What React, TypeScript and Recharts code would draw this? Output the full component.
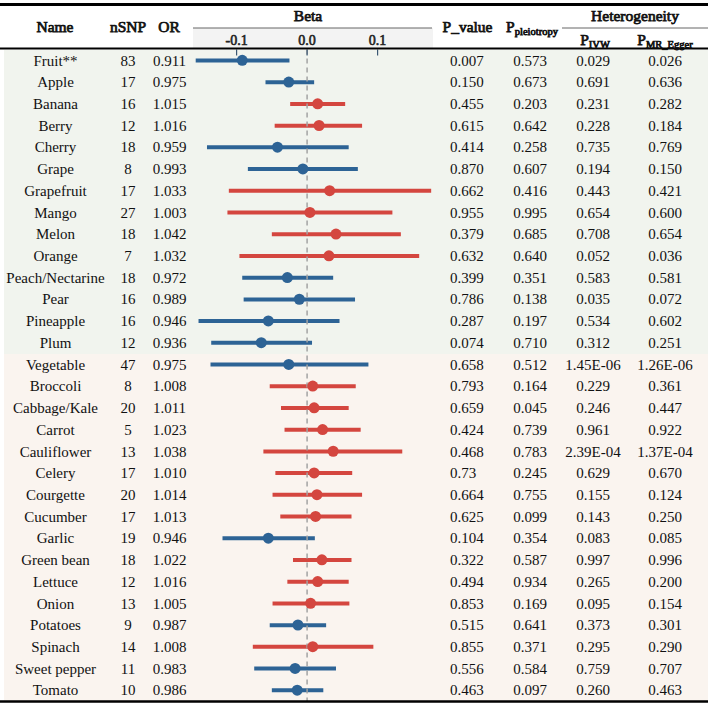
import React from 'react';
import { ComposedChart, Bar, Line, Cell, XAxis, YAxis, ReferenceLine } from 'recharts';

const SERIF = '"Liberation Serif", "Times New Roman", serif';
const BLUE = '#2d6395';
const RED = '#d4463f';
const FRUIT_BG = '#f1f4ee';
const VEG_BG = '#faf4ef';

const names = [
  'Fruit**', 'Apple', 'Banana', 'Berry', 'Cherry', 'Grape', 'Grapefruit', 'Mango', 'Melon', 'Orange',
  'Peach/Nectarine', 'Pear', 'Pineapple', 'Plum',
  'Vegetable', 'Broccoli', 'Cabbage/Kale', 'Carrot', 'Cauliflower', 'Celery', 'Courgette', 'Cucumber',
  'Garlic', 'Green bean', 'Lettuce', 'Onion', 'Potatoes', 'Spinach', 'Sweet pepper', 'Tomato',
];
const nSNP = [83, 17, 16, 12, 18, 8, 17, 27, 18, 7, 18, 16, 16, 12, 47, 8, 20, 5, 13, 17, 20, 17, 19, 18, 12, 13, 9, 14, 11, 10];
const orValues = [
  '0.911', '0.975', '1.015', '1.016', '0.959', '0.993', '1.033', '1.003', '1.042', '1.032', '0.972', '0.989', '0.946', '0.936',
  '0.975', '1.008', '1.011', '1.023', '1.038', '1.010', '1.014', '1.013', '0.946', '1.022', '1.016', '1.005', '0.987', '1.008', '0.983', '0.986',
];
const beta = [
  -0.092, -0.026, 0.015, 0.017, -0.042, -0.006, 0.032, 0.004, 0.041, 0.031, -0.028, -0.011, -0.055, -0.065,
  -0.026, 0.008, 0.010, 0.022, 0.037, 0.010, 0.014, 0.012, -0.055, 0.021, 0.015, 0.005, -0.013, 0.008, -0.017, -0.014,
];
const ciLow = [
  -0.158, -0.059, -0.024, -0.046, -0.142, -0.084, -0.111, -0.113, -0.050, -0.096, -0.092, -0.090, -0.154, -0.136,
  -0.137, -0.053, -0.037, -0.032, -0.062, -0.045, -0.049, -0.038, -0.120, -0.020, -0.028, -0.049, -0.053, -0.077, -0.075, -0.050,
];
const ciHigh = [
  -0.025, 0.010, 0.054, 0.078, 0.059, 0.072, 0.176, 0.121, 0.133, 0.159, 0.037, 0.068, 0.046, 0.007,
  0.087, 0.069, 0.059, 0.076, 0.135, 0.064, 0.078, 0.063, 0.011, 0.063, 0.059, 0.060, 0.027, 0.094, 0.041, 0.023,
];
const pValue = [
  '0.007', '0.150', '0.455', '0.615', '0.414', '0.870', '0.662', '0.955', '0.379', '0.632', '0.399', '0.786', '0.287', '0.074',
  '0.658', '0.793', '0.659', '0.424', '0.468', '0.73', '0.664', '0.625', '0.104', '0.322', '0.494', '0.853', '0.515', '0.855', '0.556', '0.463',
];
const pPleio = [
  '0.573', '0.673', '0.203', '0.642', '0.258', '0.607', '0.416', '0.995', '0.685', '0.640', '0.351', '0.138', '0.197', '0.710',
  '0.512', '0.164', '0.045', '0.739', '0.783', '0.245', '0.755', '0.099', '0.354', '0.587', '0.934', '0.169', '0.641', '0.371', '0.584', '0.097',
];
const pIVW = [
  '0.029', '0.691', '0.231', '0.228', '0.735', '0.194', '0.443', '0.654', '0.708', '0.052', '0.583', '0.035', '0.534', '0.312',
  '1.45E-06', '0.229', '0.246', '0.961', '2.39E-04', '0.629', '0.155', '0.143', '0.083', '0.997', '0.265', '0.095', '0.373', '0.295', '0.759', '0.260',
];
const pEgger = [
  '0.026', '0.636', '0.282', '0.184', '0.769', '0.150', '0.421', '0.600', '0.654', '0.036', '0.581', '0.072', '0.602', '0.251',
  '1.26E-06', '0.361', '0.447', '0.922', '1.37E-04', '0.670', '0.124', '0.250', '0.085', '0.996', '0.200', '0.154', '0.301', '0.290', '0.707', '0.463',
];
const fruitCount = 14;
const betaTicks = [-0.1, 0, 0.1];

const rows = names.map((name, i) => ({ name, beta: beta[i], ci: [ciLow[i], ciHigh[i]] }));
const colorOf = (i: number) => (beta[i] < 0 ? BLUE : RED);

// layout
const W = 708;
const H = 708;
const TOP = 49.5;
const BOTTOM = 701;
const ROW_H = (BOTTOM - TOP) / names.length;

// bold serif face is not installed, so headers get a thin stroke instead
const boldText = { stroke: '#111', strokeWidth: 0.75, paintOrder: 'stroke' } as const;

const LeftTick = ({ y, payload }: any) => {
  const i = names.indexOf(payload.value);
  return (
    <g fontFamily={SERIF} fontSize={15} fill="#111">
      <text x={55.5} y={y} dy="0.35em" textAnchor="middle">{names[i]}</text>
      <text x={128} y={y} dy="0.35em" textAnchor="middle">{nSNP[i]}</text>
      <text x={169.5} y={y} dy="0.35em" textAnchor="middle">{orValues[i]}</text>
    </g>
  );
};

const RightTick = ({ y, payload }: any) => {
  const i = names.indexOf(payload.value);
  return (
    <g fontFamily={SERIF} fontSize={15} fill="#111">
      <text x={450} y={y} dy="0.35em" textAnchor="start">{pValue[i]}</text>
      <text x={530} y={y} dy="0.35em" textAnchor="middle">{pPleio[i]}</text>
      <text x={593} y={y} dy="0.35em" textAnchor="middle">{pIVW[i]}</text>
      <text x={665} y={y} dy="0.35em" textAnchor="middle">{pEgger[i]}</text>
    </g>
  );
};

const BetaTick = ({ x, y, payload }: any) => (
  <g>
    <text
      x={x} y={y - 5} textAnchor="middle" fontFamily={SERIF} fontSize={14} fill="#222"
      stroke="#222" strokeWidth={0.6}
    >
      {payload.value.toFixed(1)}
    </text>
    <line x1={x} x2={x} y1={y} y2={y + 6} stroke="#3b5873" strokeWidth={1.2} />
  </g>
);

export default function App() {
  return (
    <div style={{ position: 'absolute', left: 0, top: 0, width: W, height: H, background: '#fff', fontFamily: SERIF }}>
      <div style={{ position: 'absolute', left: 4, top: TOP, width: W - 4, height: fruitCount * ROW_H, background: FRUIT_BG }} />
      <div
        style={{
          position: 'absolute', left: 4, top: TOP + fruitCount * ROW_H, width: W - 4,
          height: (names.length - fruitCount) * ROW_H, background: VEG_BG,
        }}
      />
      <div style={{ position: 'absolute', left: 193, top: 28, width: 240, height: 21, background: '#f3f3f3' }} />
      <div style={{ position: 'absolute', left: 0, top: 0 }}>
        <ComposedChart
          width={W}
          height={H}
          data={rows}
          layout="vertical"
          margin={{ top: 27.5, right: 0, bottom: H - BOTTOM, left: 0 }}
        >
          <XAxis
            type="number"
            orientation="top"
            domain={[-0.159, 0.1786]}
            allowDataOverflow
            ticks={betaTicks}
            height={22}
            axisLine={false}
            tickLine={false}
            tickSize={0}
            tickMargin={0}
            tick={<BetaTick />}
          />
          <YAxis
            yAxisId="left"
            type="category"
            dataKey="name"
            width={195}
            interval={0}
            axisLine={false}
            tickLine={false}
            tick={<LeftTick />}
          />
          <YAxis
            yAxisId="right"
            orientation="right"
            type="category"
            dataKey="name"
            width={275}
            interval={0}
            axisLine={false}
            tickLine={false}
            tick={<RightTick />}
          />
          <ReferenceLine yAxisId="left" x={0} stroke="#a3a3a3" strokeWidth={1.5} strokeDasharray="5 4" />
          <Bar yAxisId="left" dataKey="ci" barSize={4} isAnimationActive={false}>
            {rows.map((_, i) => (
              <Cell key={i} fill={colorOf(i)} />
            ))}
          </Bar>
          <Line
            yAxisId="left"
            dataKey="beta"
            stroke="none"
            isAnimationActive={false}
            activeDot={false}
            dot={(p: any) => <circle key={p.index} cx={p.cx} cy={p.cy} r={5.5} fill={colorOf(p.index)} />}
          />
        </ComposedChart>
      </div>
      <svg width={W} height={H} style={{ position: 'absolute', left: 0, top: 0, pointerEvents: 'none' }}>
        <line x1={0} x2={W} y1={4.5} y2={4.5} stroke="#000" strokeWidth={3} />
        <line x1={0} x2={W} y1={48.5} y2={48.5} stroke="#000" strokeWidth={2} />
        <line x1={0} x2={W} y1={701.5} y2={701.5} stroke="#000" strokeWidth={2.5} />
        <line x1={193} x2={432} y1={28} y2={28} stroke="#666" strokeWidth={1} />
        <line x1={562} x2={W} y1={28} y2={28} stroke="#666" strokeWidth={1} />
        <g fontFamily={SERIF} fontSize={15.5} fill="#111" textAnchor="middle" style={boldText}>
          <text x={55} y={32}>Name</text>
          <text x={128} y={32}>nSNP</text>
          <text x={169} y={32}>OR</text>
          <text x={308} y={21}>Beta</text>
          <text x={467.5} y={32}>P_value</text>
          <text x={532} y={32}>
            P<tspan fontSize={10.5} dy={3}>pleiotropy</tspan>
          </text>
          <text x={635} y={21}>Heterogeneity</text>
          <text x={595} y={45}>
            P<tspan fontSize={10.5} dy={3}>IVW</tspan>
          </text>
          <text x={665} y={45}>
            P<tspan fontSize={10.5} dy={3}>MR_Egger</tspan>
          </text>
        </g>
      </svg>
    </div>
  );
}
